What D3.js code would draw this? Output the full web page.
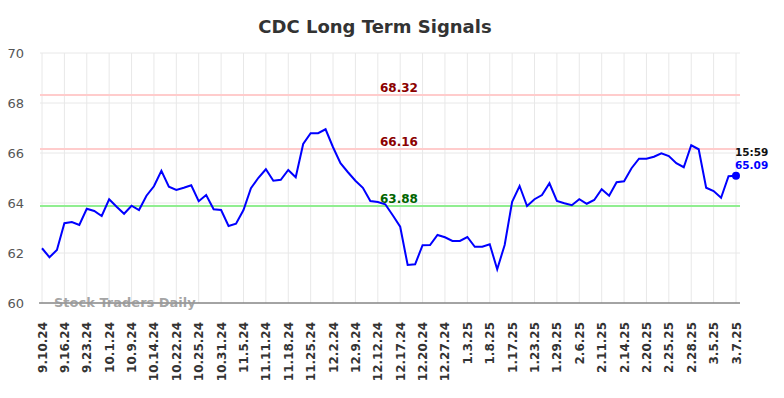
<!DOCTYPE html>
<html>
<head>
<meta charset="utf-8">
<script src="https://cdn.jsdelivr.net/npm/d3@7"></script>
<style>
  body { margin: 0; background: #fff; }
  svg { font-family: "DejaVu Sans", sans-serif; }
</style>
</head>
<body>
<svg id="chart" width="784" height="398"></svg>
<script>
// tick labels, one every 3 points
const tickLabels = ["9.10.24","9.16.24","9.23.24","10.1.24","10.9.24","10.14.24","10.22.24","10.25.24",
  "10.31.24","11.5.24","11.11.24","11.18.24","11.25.24","12.2.24","12.9.24","12.12.24","12.17.24",
  "12.20.24","12.27.24","1.3.25","1.8.25","1.17.25","1.23.25","1.29.25","2.6.25","2.11.25","2.14.25",
  "2.20.25","2.25.25","2.28.25","3.5.25","3.7.25"];

const prices = [62.19,61.83,62.12,63.19,63.24,63.12,63.77,63.68,63.48,64.15,63.85,63.57,63.89,63.72,
  64.29,64.67,65.29,64.65,64.52,64.61,64.71,64.07,64.32,63.75,63.72,63.08,63.17,63.72,64.59,65.01,
  65.35,64.89,64.93,65.32,65.03,66.36,66.79,66.79,66.95,66.23,65.59,65.23,64.89,64.61,64.08,64.04,
  63.95,63.51,63.05,61.52,61.55,62.31,62.32,62.72,62.63,62.48,62.48,62.64,62.25,62.25,62.35,61.35,
  62.32,64.05,64.68,63.88,64.15,64.32,64.79,64.08,63.99,63.91,64.15,63.97,64.12,64.55,64.29,64.83,
  64.87,65.39,65.77,65.77,65.85,65.99,65.88,65.59,65.43,66.31,66.15,64.61,64.48,64.21,65.07,65.09];

const signalValues = [68.32, 66.16, 63.88];
const signalColors = ["#8b0000", "#8b0000", "#006400"];
const yTicks = [60, 62, 64, 66, 68, 70];
const lastTime = "15:59";

const svg = d3.select("#chart");
const plotL = 42, plotR = 736, plotT = 53, plotB = 303;

const x = d3.scaleLinear().domain([0, prices.length - 1]).range([plotL, plotR]);
const y = d3.scaleLinear().domain([60, 70]).range([plotB, plotT]);
const tickIdx = tickLabels.map((d, i) => i * 3);

// title
svg.append("text")
  .attr("x", 375).attr("y", 33)
  .attr("text-anchor", "middle")
  .attr("font-size", 18).attr("font-weight", "bold")
  .attr("fill", "#333")
  .text("CDC Long Term Signals");

// grid
svg.append("g").selectAll("line")
  .data(yTicks)
  .join("line")
  .attr("x1", plotL - 2).attr("x2", 740)
  .attr("y1", d => y(d)).attr("y2", d => y(d))
  .attr("stroke", "#e8e8e8").attr("stroke-width", 1);

svg.append("g").selectAll("line")
  .data(tickIdx)
  .join("line")
  .attr("x1", d => x(d)).attr("x2", d => x(d))
  .attr("y1", plotT).attr("y2", plotB)
  .attr("stroke", "#e8e8e8").attr("stroke-width", 1);

// y labels
svg.append("g").selectAll("text")
  .data(yTicks)
  .join("text")
  .attr("x", 24).attr("y", d => y(d) + 5)
  .attr("text-anchor", "end")
  .attr("font-size", 13).attr("fill", "#555")
  .text(d => d);

// x axis line
svg.append("line")
  .attr("x1", plotL - 3).attr("x2", 740)
  .attr("y1", plotB).attr("y2", plotB)
  .attr("stroke", "#555").attr("stroke-width", 1);

// x labels
svg.append("g").selectAll("text")
  .data(tickIdx)
  .join("text")
  .attr("transform", d => `translate(${x(d) + 4.5},322) rotate(-90)`)
  .attr("text-anchor", "end")
  .attr("font-size", 12).attr("font-weight", "bold")
  .attr("fill", "#333")
  .text((d, i) => tickLabels[i]);

// watermark
svg.append("text")
  .attr("x", 54).attr("y", 307)
  .attr("font-size", 13).attr("font-weight", "bold")
  .attr("fill", "#999").attr("fill-opacity", 0.9)
  .text("Stock Traders Daily");

// signal lines
signalValues.forEach((v, i) => {
  svg.append("line")
    .attr("x1", plotL - 2).attr("x2", 740)
    .attr("y1", y(v)).attr("y2", y(v))
    .attr("stroke", i < 2 ? "#ffcccc" : "#90ee90")
    .attr("stroke-width", 2);
  svg.append("text")
    .attr("x", 399).attr("y", y(v) - 3)
    .attr("text-anchor", "middle")
    .attr("font-size", 12).attr("font-weight", "bold")
    .attr("fill", signalColors[i])
    .text(v.toFixed(2));
});

// price line
svg.append("path")
  .datum(prices)
  .attr("fill", "none")
  .attr("stroke", "#0000ff")
  .attr("stroke-width", 2)
  .attr("d", d3.line().x((d, i) => x(i)).y(d => y(d)));

const lastI = prices.length - 1;
svg.append("circle")
  .attr("cx", x(lastI)).attr("cy", y(prices[lastI]))
  .attr("r", 4).attr("fill", "#0000ff");

svg.append("text")
  .attr("x", 735).attr("y", 156)
  .attr("font-size", 10.5).attr("font-weight", "bold")
  .attr("fill", "#111")
  .text(lastTime);
svg.append("text")
  .attr("x", 735).attr("y", 169)
  .attr("font-size", 10.5).attr("font-weight", "bold")
  .attr("fill", "#0000ff")
  .text(prices[lastI].toFixed(2));
</script>
</body>
</html>
